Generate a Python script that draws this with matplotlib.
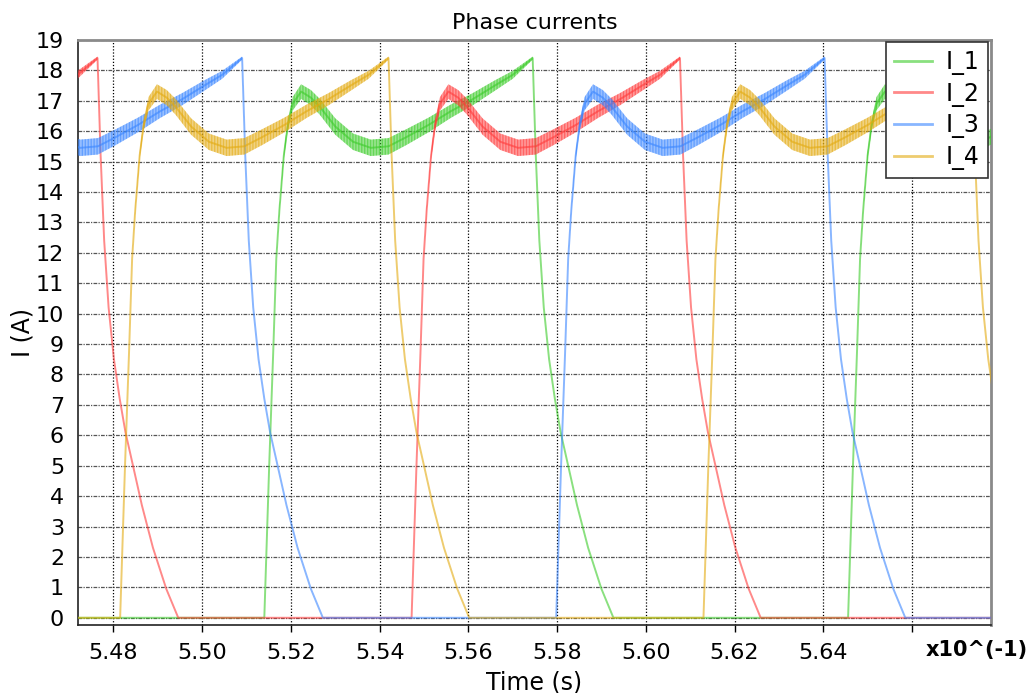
import numpy as np
import matplotlib
matplotlib.use("Agg")
import matplotlib.pyplot as plt
from matplotlib.colors import to_rgba

# one conduction cycle of a phase, time counted from switch-on (x10^-1 s)
cycle_t = [0.0, 0.0011, 0.0020, 0.0027, 0.0034, 0.0044, 0.0053, 0.0064, 0.0083,
           0.0105, 0.0125, 0.0160, 0.0200, 0.0240, 0.0280, 0.0320, 0.0370, 0.0420,
           0.0470, 0.0520, 0.0560, 0.0605,
           0.0612, 0.0620, 0.0630, 0.0642, 0.0655, 0.0668, 0.0685, 0.0705, 0.0730,
           0.0760, 0.0787]
cycle_i = [0.0, 5.0, 8.7, 11.8, 13.4, 15.2, 16.2, 16.9, 17.3,
           17.1, 16.8, 16.15, 15.65, 15.45, 15.5, 15.8, 16.2, 16.65,
           17.05, 17.5, 17.85, 18.4,
           15.2, 12.4, 10.2, 8.5, 7.2, 6.1, 5.0, 3.7, 2.3, 0.95, 0.0]
# half height of the chopping ripple band
cycle_ripple = [0.0, 0.0, 0.0, 0.0, 0.05, 0.12, 0.18, 0.22, 0.24,
                0.25, 0.26, 0.27, 0.27, 0.27, 0.27, 0.26, 0.24, 0.22,
                0.2, 0.17, 0.13, 0.05,
                0.0, 0.0, 0.0, 0.0, 0.0, 0.0, 0.0, 0.0, 0.0, 0.0, 0.0]

# switch-on instants of each phase
on_1 = [5.3827, 5.5140, 5.6456]
on_2 = [5.4159, 5.5472]
on_3 = [5.4485, 5.5798]
on_4 = [5.4815, 5.6130]

names = ["I_1", "I_2", "I_3", "I_4"]
colors = ["#3ccc2a", "#ff3b3b", "#3a86ff", "#e3aa10"]

xticks = [5.48, 5.50, 5.52, 5.54, 5.56, 5.58, 5.60, 5.62, 5.64, 5.66]
xlabels = ["5.48", "5.50", "5.52", "5.54", "5.56", "5.58", "5.60", "5.62", "5.64", ""]
yticks = list(range(0, 20))


def phase_wave(starts):
    t, i, r = [5.30], [0.0], [0.0]
    for s in starts:
        t += [s + c for c in cycle_t]
        i += cycle_i
        r += cycle_ripple
    if t[-1] < 5.75:
        t.append(5.75)
        i.append(0.0)
        r.append(0.0)
    return np.array(t), np.array(i), np.array(r)


plt.rcParams["hatch.linewidth"] = 0.6
fig = plt.figure(figsize=(10.29, 6.93), dpi=100)
ax = fig.add_axes([0.0758, 0.098, 0.8872, 0.8445])

for name, starts, col in zip(names, [on_1, on_2, on_3, on_4], colors):
    t, i, r = phase_wave(starts)
    ax.plot(t, i, color=col, lw=1.4, alpha=0.6, label=name, zorder=3)
    ax.fill_between(t, i - r, i + r, facecolor=to_rgba(col, 0.35),
                    edgecolor=to_rgba(col, 0.8), linewidth=0,
                    hatch="|" * 11, zorder=3)

ax.set_xlim(5.472, 5.6778)
ax.set_ylim(-0.24, 19)
ax.set_xticks(xticks)
ax.set_xticklabels(xlabels)
ax.set_yticks(yticks)

ax.xaxis.grid(True, ls=(0, (1, 1.5)), color="k", lw=0.9)
ax.yaxis.grid(True, ls=(0, (3, 1, 1, 1)), color="#555555", lw=0.9)
ax.set_axisbelow(True)

ax.tick_params(axis="x", labelsize=16, length=5, width=1, pad=8, direction="out")
ax.tick_params(axis="y", labelsize=16, length=0, pad=10)
for side in ["left", "bottom"]:
    ax.spines[side].set_color("#222222")
    ax.spines[side].set_linewidth(1.2)
for side in ["top", "right"]:
    ax.spines[side].set_color("#8a8a8a")
    ax.spines[side].set_linewidth(2)

ax.set_title("Phase currents", fontsize=16, pad=8)
ax.set_xlabel("Time (s)", fontsize=17, labelpad=5)
ax.set_ylabel("I (A)", fontsize=17, labelpad=1)
ax.text(0.985, -0.026, "x10^(-1)", transform=ax.transAxes, ha="center", va="top",
        fontsize=15, fontweight="bold")

leg = ax.legend(loc="upper right", bbox_to_anchor=(0.9967, 0.9966), fontsize=17,
                frameon=True, fancybox=False, edgecolor="#333333", framealpha=1,
                handlelength=1.6, handletextpad=0.6, labelspacing=0.28,
                borderpad=0.35, borderaxespad=0)
leg.get_frame().set_linewidth(1.2)
for line in leg.get_lines():
    line.set_linewidth(2)

fig.savefig("out.png", dpi=100)
